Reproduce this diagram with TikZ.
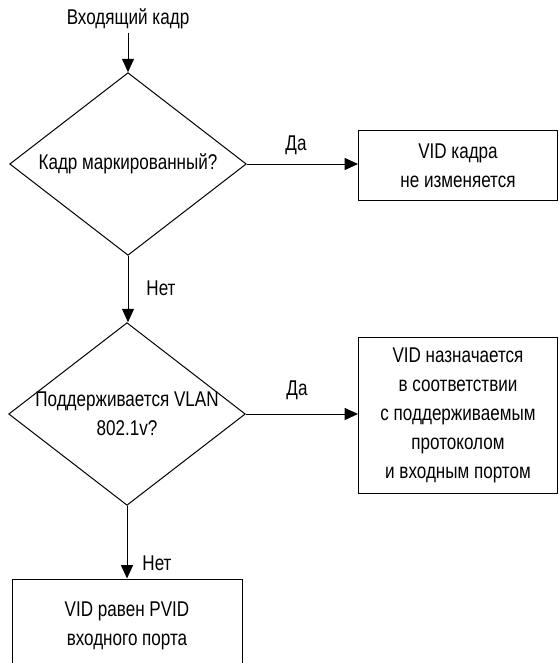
\documentclass[tikz,border=0pt]{standalone}
\usepackage{fontspec}
\setmainfont{Liberation Sans}[FakeStretch=0.8]
\usetikzlibrary{arrows.meta, shapes.geometric}

\begin{document}
\begin{tikzpicture}[
      x=0.75pt, y=-0.75pt,
      font=\fontsize{16}{21.75}\selectfont,
      box/.style={draw, line width=0.75pt, inner sep=0pt, align=center,
                  minimum width=149.25pt},
      dec/.style={diamond, draw, line width=0.75pt, inner sep=0pt,
                  minimum width=177.5pt, minimum height=137pt},
      txt/.style={inner sep=0pt, align=center},
      ar/.style={-{Triangle[length=10pt,width=9pt]}, line width=0.75pt},
    ]
    \useasboundingbox (0,0) rectangle (558,663);

    \node[txt, inner sep=2.5pt] (in) at (128,19) {Входящий кадр};
    \node[dec] (q1) at (128,164) {};
    \node[txt] (q1t) at (q1) {Кадр маркированный?};
    \node[box, minimum height=51.75pt] (b1) at (458,165.5) {VID кадра\\не изменяется};
    \node[dec] (q2) at (127,414) {};
    \node[txt] (q2t) at (q2) {Поддерживается VLAN\\802.1v?};
    \node[box, minimum height=117pt] (b2) at (458,415) {VID назначается\\в соответствии\\с поддерживаемым\\протоколом\\и входным портом};
    \node[box, minimum width=172.5pt, minimum height=69.75pt] (b3) at (127,625.5) {VID равен PVID\\входного порта};

    \node[txt] (yes1) at (296,145) {Да};
    \node[txt] (no1)  at (161,288) {Нет};
    \node[txt] (yes2) at (297,390) {Да};
    \node[txt] (no2)  at (157,563) {Нет};

    \draw[ar] (in) -- (q1.north);
    \draw[ar] (q1.east) -- (q1.east -| b1.west);
    \draw[ar] (q1.south) -- (q1.south |- q2.north);
    \draw[ar] (q2.east) -- (q2.east -| b2.west);
    \draw[ar] (q2.south) -- (q2.south |- b3.north);
  \end{tikzpicture}
\end{document}
